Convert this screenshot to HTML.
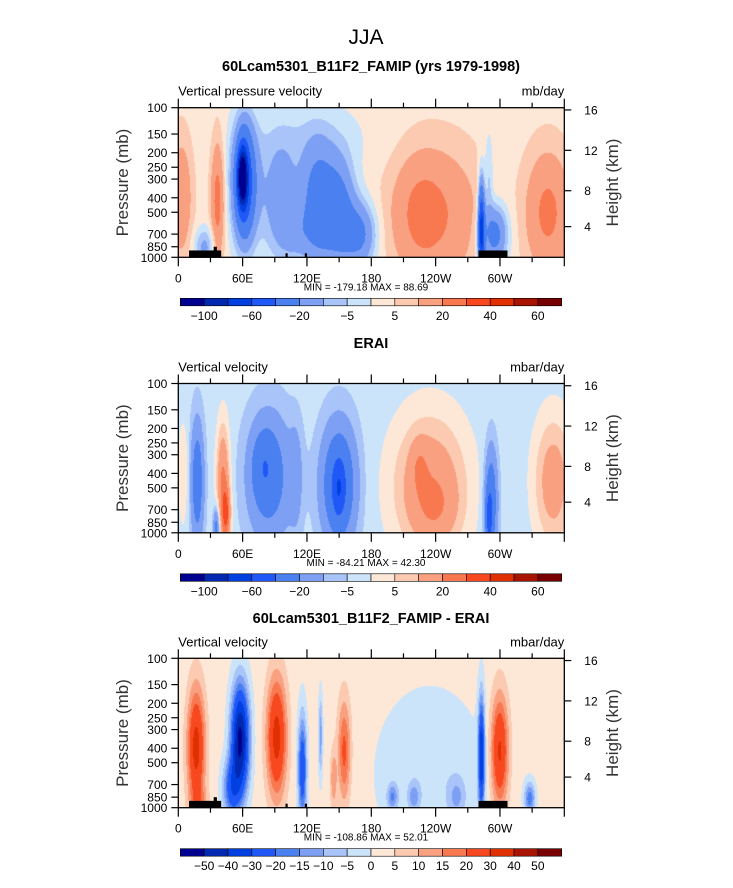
<!DOCTYPE html>
<html><head><meta charset="utf-8">
<style>
body{margin:0;background:#fff;width:733px;height:888px;overflow:hidden;font-family:"Liberation Sans",sans-serif}
#wrap{position:relative;width:733px;height:888px}
canvas{position:absolute;left:0;top:0}
</style></head>
<body><div id="wrap">
<canvas id="cv" width="733" height="888"></canvas>
<svg id="ov" width="733" height="888" style="position:absolute;left:0;top:0"></svg>
</div>
<script>
// ---- data ----
const colors=["#000090","#0028b0","#0040e0","#2058f8","#4a80f0","#7ea0f4","#a8c4f8","#cce4fa","#fde8d8","#fccab0","#f8a080","#f87850","#f84820","#e03000","#a81400","#780000"];
const levelsA=[-100,-80,-60,-40,-20,-10,-5,0,5,10,20,30,40,50,60];
const labelsA=["-100","-60","-20","-5","5","20","40","60"];
const levelsB=[-50,-40,-30,-20,-15,-10,-5,0,5,10,15,20,30,40,50];
const labelsB=["-50","-40","-30","-20","-15","-10","-5","0","5","10","15","20","30","40","50"];
const presTicks=[100,150,200,250,300,400,500,700,850,1000];
const heightTicks=["16","12","8","4"];
const heightPos=[0.015,0.285,0.555,0.795];
const lonLabels=["0","60E","120E","180","120W","60W"];
// panel 1 (model)
const p1Base=3;
const p1Lon=[3,37,25,62,60,62,120,95,130,150,170,110,240,225,283,295,290,345];
const p1Pres=[400,420,850,330,290,300,160,420,450,500,700,700,520,500,650,700,300,500];
const p1Amp=[15,22,-15,-40,-90,-30,-6,-18,-30,-30,-25,-10,17,8,-70,-30,-10,20];
const p1WLon=[10,6,10,12,4,7,60,18,15,15,15,15,40,20,3,12,4,20];
const p1WLog=[0.9,0.9,0.3,0.9,0.4,0.7,0.6,0.9,0.9,0.8,0.5,0.4,1.0,0.8,0.7,0.45,0.7,0.9];
// panel 2 (ERAI)
const p2Base=-3;
const p2Lon=[5,18,42,45,85,80,110,150,150,235,225,240,292,290,350,36];
const p2Pres=[400,450,470,750,420,350,420,470,500,480,350,700,600,800,450,900];
const p2Amp=[8,-28,25,25,-25,-15,-10,-35,-25,20,8,8,-30,-30,18,-25];
const p2WLon=[5,6,6,4,20,10,6,16,6,35,8,20,6,3,18,3];
const p2WLog=[0.8,0.9,0.9,0.4,0.95,0.5,0.8,0.9,0.45,1.1,0.4,0.5,0.8,0.4,1.0,0.3];
// panel 3 (difference)
const p3Base=2;
const p3Lon=[17,58,50,92,116,133,155,145,235,200,220,260,283,300,328,20];
const p3Pres=[400,350,750,340,550,330,420,650,600,850,850,850,450,420,870,900];
const p3Amp=[32,-55,-25,32,-30,-15,20,12,-6,-15,-12,-10,-40,30,-20,8];
const p3WLon=[8,8,8,9,4,2,6,3,50,5,5,8,3,8,5,8];
const p3WLog=[0.9,0.8,0.45,0.9,0.8,0.6,0.8,0.45,1.3,0.2,0.2,0.3,0.85,0.85,0.25,0.2];

const X0=178.3,X1=564.3,W=X1-X0;
const panels=[
 {top:107.7,bot:257.3,base:p1Base,lon:p1Lon,pres:p1Pres,amp:p1Amp,wl:p1WLon,wp:p1WLog,lev:levelsA,lab:labelsA,
  title:"60Lcam5301_B11F2_FAMIP (yrs 1979-1998)",ty:71,left:"Vertical pressure velocity",right:"mb/day",minmax:"MIN = -179.18   MAX =   88.69",topo:true},
 {top:383.5,bot:532.8,base:p2Base,lon:p2Lon,pres:p2Pres,amp:p2Amp,wl:p2WLon,wp:p2WLog,lev:levelsA,lab:labelsA,
  title:"ERAI",ty:348,left:"Vertical velocity",right:"mbar/day",minmax:"MIN = -84.21   MAX =   42.30",topo:false},
 {top:658.3,bot:807.7,base:p3Base,lon:p3Lon,pres:p3Pres,amp:p3Amp,wl:p3WLon,wp:p3WLog,lev:levelsB,lab:labelsB,
  title:"60Lcam5301_B11F2_FAMIP - ERAI",ty:623,left:"Vertical velocity",right:"mbar/day",minmax:"MIN = -108.86   MAX =   52.01",topo:true}
];
const xOf=l=>X0+l/360*W;
const yOf=(p,P)=>P.top+Math.log10(p/100)*(P.bot-P.top);
function hex(c){return [parseInt(c.substr(1,2),16),parseInt(c.substr(3,2),16),parseInt(c.substr(5,2),16)];}
const rgb=colors.map(hex);

const ctx=document.getElementById('cv').getContext('2d');
panels.forEach(P=>{
 const x0=Math.round(X0),x1=Math.round(X1),y0=Math.round(P.top),y1=Math.round(P.bot);
 const img=ctx.createImageData(x1-x0,y1-y0);
 for(let j=0;j<y1-y0;j++){
  const lp=(j+0.5)/(P.bot-P.top);
  for(let i=0;i<x1-x0;i++){
   const lon=(i+0.5)/W*360;
   let v=P.base;
   for(let k=0;k<P.lon.length;k++){
    const a=(lon-P.lon[k])/P.wl[k],b=(lp-Math.log10(P.pres[k]/100))/(P.wp[k]/2.3026);
    v+=P.amp[k]*Math.exp(-a*a-b*b);
   }
   let c=0;while(c<P.lev.length&&v>=P.lev[c])c++;
   const q=(j*(x1-x0)+i)*4,col=rgb[c];
   img.data[q]=col[0];img.data[q+1]=col[1];img.data[q+2]=col[2];img.data[q+3]=255;
  }
 }
 ctx.putImageData(img,x0,y0);
});

const ov=document.getElementById('ov');const NS="http://www.w3.org/2000/svg";
function mk(tag,attrs,parent){const e=document.createElementNS(NS,tag);for(const k in attrs)e.setAttribute(k,attrs[k]);(parent||ov).appendChild(e);return e;}
function txt(s,x,y,size,anchor,name,extra){const t=mk('text',Object.assign({x:x,y:y,'font-size':size,'text-anchor':anchor||'start','font-family':'Liberation Sans, sans-serif',fill:'#000'},extra||{}));t.textContent=s;return t;}

txt("JJA",366,44,21,'middle','main-title',{'font-weight':'300'});
panels.forEach((P,pi)=>{
 const g=mk('g',{});
 
 
 txt(P.title,371,P.ty,14.5,'middle','panel-title',{'font-weight':'bold'});
 txt(P.left,X0,P.top-12,13,'start','variable-label');
 txt(P.right,X1,P.top-12,13,'end','units-label');
 if(P.topo){
  const rects=[[10,40,900],[33,36,850],[100,102,940],[118,120,940],[280,307,900]];
  rects.forEach(r=>{const e=mk('rect',{x:xOf(r[0]),y:yOf(r[2],P),width:xOf(r[1])-xOf(r[0]),height:P.bot-yOf(r[2],P),fill:'#000'},g);
   });
 }
 const fr=mk('rect',{x:X0,y:P.top,width:W,height:P.bot-P.top,fill:'none',stroke:'#000','stroke-width':1.3},g);
 
 for(let l=0;l<=360;l+=30){
  const x=xOf(l),len=l%60==0?9:5;
  mk('line',{x1:x,x2:x,y1:P.top,y2:P.top-len,stroke:'#000','stroke-width':1.2},g);
  mk('line',{x1:x,x2:x,y1:P.bot,y2:P.bot+len,stroke:'#000','stroke-width':1.2},g);
  if(l%60==0&&l<360) txt(lonLabels[l/60],x,P.bot+25,12,'middle','x-tick-label');
 }
 presTicks.forEach(p=>{const y=yOf(p,P);mk('line',{x1:X0,x2:X0-7,y1:y,y2:y,stroke:'#000','stroke-width':1.2},g);
  txt(String(p),X0-11,y+4.5,12,'end','y-tick-label');});
 heightPos.forEach((f,i)=>{const y=P.top+f*(P.bot-P.top);mk('line',{x1:X1,x2:X1+7,y1:y,y2:y,stroke:'#000','stroke-width':1.2},g);
  txt(heightTicks[i],X1+20,y+4.5,12,'start','height-tick-label');});
 const cy=(P.top+P.bot)/2;
 txt("Pressure (mb)",128,cy,17,'middle','y-axis-title',{transform:`rotate(-90 128 ${cy})`,fill:'#333'});
 txt("Height (km)",618,cy,17,'middle','right-axis-title',{transform:`rotate(-90 618 ${cy})`,fill:'#333'});
 txt(P.minmax,366,P.bot+33,10,'middle','min-max-label');
 const cbx=180.3,cbw=381.4,cby=P.bot+41,cbh=7.5,bw=cbw/16;
 colors.forEach((c,i)=>{const e=mk('rect',{x:cbx+i*bw,y:cby,width:bw,height:cbh,fill:c,stroke:'#000','stroke-width':0.6},g);
  });
 const every=P.lab.length==8?2:1;
 P.lab.forEach((s,i)=>{const b=every==2?1+2*i:1+i;txt(s.replace('-','\u2212'),cbx+b*bw,cby+cbh+14,12,'middle','colorbar-label');});
});
</script>
</body></html>
